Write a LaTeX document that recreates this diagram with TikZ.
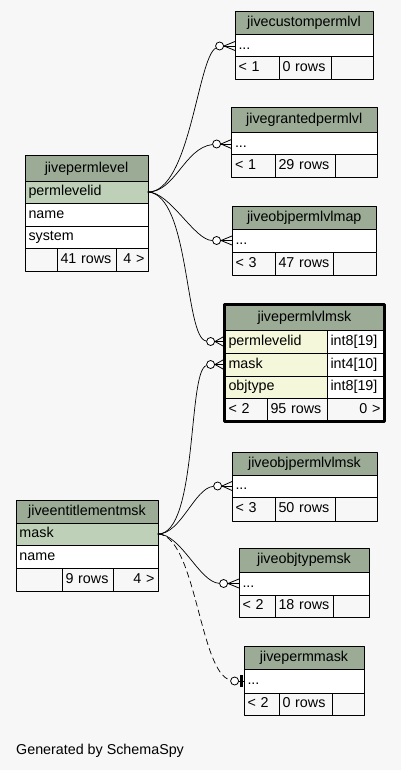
\documentclass[tikz,border=0pt]{standalone}
\usepackage{fontspec}
\setmainfont{Liberation Sans}
\usetikzlibrary{positioning}
\definecolor{bgclr}{HTML}{F7F7F7}
\definecolor{hdrclr}{HTML}{9BAB96}
\definecolor{keyclr}{HTML}{BED1B8}
\definecolor{focusclr}{HTML}{F4F7DA}
\tikzset{
  tbl/.style={draw, line width=1pt, outer sep=0pt, inner xsep=3pt, inner ysep=0pt, text height=10pt, text depth=3pt},
  hdr/.style={tbl, fill=hdrclr},
  keyrow/.style={tbl, fill=keyclr},
  colrow/.style={tbl, fill=white},
  focusrow/.style={tbl, fill=focusclr},
  footrow/.style={tbl, fill=bgclr},
  odot/.style={circle, draw, fill=white, minimum size=8pt, inner sep=0pt, line width=0.8pt},
  rel/.style={line width=0.7pt},
  crow/.style={line width=0.8pt},
}
% one table cell: name, style, x0, y0, x1, y1, align, text
\newcommand{\tcell}[8]{%
  \pgfmathsetmacro\cw{#5-#3}%
  \pgfmathsetmacro\ch{#6-#4}%
  \pgfmathsetmacro\tw{#5-#3-7}%
  \node[#2, anchor=north west, minimum width=\cw pt, minimum height=\ch pt, text width=\tw pt, align=#7] (#1) at (#3,#4) {#8};}
\begin{document}
\begin{tikzpicture}[x=1pt,y=-1pt,line join=round,line cap=round,font=\fontsize{14.3pt}{16pt}\selectfont]
\fill[bgclr] (0,0) rectangle (401,770);
\useasboundingbox (0,0) rectangle (401,770);
% jivecustompermlvl
\tcell{cust-h}{hdr}{235}{12}{373}{35}{center}{jivecustompermlvl}
\tcell{cust-r}{colrow}{235}{35}{373}{57}{left}{...}
\tcell{cust-f1}{footrow}{235}{57}{279}{80}{left}{< 1}
\tcell{cust-f2}{footrow}{279}{57}{331}{80}{left}{0 rows}
\tcell{cust-f3}{footrow}{331}{57}{373}{80}{right}{}
% jivegrantedpermlvl
\tcell{grant-h}{hdr}{231.5}{108}{377}{133}{center}{jivegrantedpermlvl}
\tcell{grant-r}{colrow}{231.5}{133}{377}{155}{left}{...}
\tcell{grant-f1}{footrow}{231.5}{155}{275}{177}{left}{< 1}
\tcell{grant-f2}{footrow}{275}{155}{335}{177}{left}{29 rows}
\tcell{grant-f3}{footrow}{335}{155}{377}{177}{right}{}
% jiveobjpermlvlmap
\tcell{map-h}{hdr}{232}{206}{376.5}{229}{center}{jiveobjpermlvlmap}
\tcell{map-r}{colrow}{232}{229}{376.5}{252}{left}{...}
\tcell{map-f1}{footrow}{232}{252}{275}{275}{left}{< 3}
\tcell{map-f2}{footrow}{275}{252}{333}{275}{left}{47 rows}
\tcell{map-f3}{footrow}{333}{252}{376.5}{275}{right}{}
% jivepermlevel
\tcell{plevel-h}{hdr}{25}{156}{148}{181}{center}{jivepermlevel}
\tcell{plevel-k}{keyrow}{25}{181}{148}{203}{left}{permlevelid}
\tcell{plevel-n}{colrow}{25}{203}{148}{226}{left}{name}
\tcell{plevel-s}{colrow}{25}{226}{148}{248}{left}{system}
\tcell{plevel-f1}{footrow}{25}{248}{57}{271}{left}{}
\tcell{plevel-f2}{footrow}{57}{248}{116}{271}{left}{41 rows}
\tcell{plevel-f3}{footrow}{116}{248}{148}{271}{right}{4 >}
% jivepermlvlmsk
\tcell{msk-h}{hdr}{225}{305}{384}{330}{center}{jivepermlvlmsk}
\tcell{msk-k}{focusrow}{225}{330}{327}{353}{left}{permlevelid}
\tcell{msk-kt}{colrow}{327}{330}{384}{353}{left}{int8[19]}
\tcell{msk-m}{focusrow}{225}{353}{327}{376}{left}{mask}
\tcell{msk-mt}{colrow}{327}{353}{384}{376}{left}{int4[10]}
\tcell{msk-o}{focusrow}{225}{376}{327}{398}{left}{objtype}
\tcell{msk-ot}{colrow}{327}{376}{384}{398}{left}{int8[19]}
\tcell{msk-f1}{footrow}{225}{398}{267}{421}{left}{< 2}
\tcell{msk-f2}{footrow}{267}{398}{327}{421}{left}{95 rows}
\tcell{msk-f3}{footrow}{327}{398}{384}{421}{right}{0 >}
\draw[line width=3pt] ([xshift=-0.5pt,yshift=0.5pt]msk-h.north west) rectangle ([xshift=0.5pt,yshift=-0.5pt]msk-f3.south east);
% jiveobjpermlvlmsk
\tcell{objmsk-h}{hdr}{232}{452}{377}{475}{center}{jiveobjpermlvlmsk}
\tcell{objmsk-r}{colrow}{232}{475}{377}{497}{left}{...}
\tcell{objmsk-f1}{footrow}{232}{497}{275}{521}{left}{< 3}
\tcell{objmsk-f2}{footrow}{275}{497}{335}{521}{left}{50 rows}
\tcell{objmsk-f3}{footrow}{335}{497}{377}{521}{right}{}
% jiveentitlementmsk
\tcell{ent-h}{hdr}{16}{500}{158}{523}{center}{jiveentitlementmsk}
\tcell{ent-k}{keyrow}{16}{523}{158}{545}{left}{mask}
\tcell{ent-n}{colrow}{16}{545}{158}{568}{left}{name}
\tcell{ent-f1}{footrow}{16}{568}{62}{591}{left}{}
\tcell{ent-f2}{footrow}{62}{568}{113}{591}{left}{9 rows}
\tcell{ent-f3}{footrow}{113}{568}{158}{591}{right}{4 >}
% jiveobjtypemsk
\tcell{otype-h}{hdr}{239}{548}{369}{572}{center}{jiveobjtypemsk}
\tcell{otype-r}{colrow}{239}{572}{369}{595}{left}{...}
\tcell{otype-f1}{footrow}{239}{595}{275}{617}{left}{< 2}
\tcell{otype-f2}{footrow}{275}{595}{333}{617}{left}{18 rows}
\tcell{otype-f3}{footrow}{333}{595}{369}{617}{right}{}
% jivepermmask
\tcell{pmask-h}{hdr}{244}{646}{364}{669}{center}{jivepermmask}
\tcell{pmask-r}{colrow}{244}{669}{364}{693}{left}{...}
\tcell{pmask-f1}{footrow}{244}{693}{279}{715}{left}{< 2}
\tcell{pmask-f2}{footrow}{279}{693}{332}{715}{left}{0 rows}
\tcell{pmask-f3}{footrow}{332}{693}{364}{715}{right}{}
% circles at the child ends
\node[odot, left=11pt of cust-r.west] (cust-o) {};
\node[odot, left=10.5pt of grant-r.west] (grant-o) {};
\node[odot, left=11pt of map-r.west] (map-o) {};
\node[odot, left=10pt of msk-k.west] (msk-ko) {};
\node[odot, left=10pt of msk-m.west] (msk-mo) {};
\node[odot, left=10pt of objmsk-r.west] (objmsk-o) {};
\node[odot, left=11pt of otype-r.west] (otype-o) {};
\node[odot, left=5pt of pmask-r.west] (pmask-o) {};
% relations
\draw[rel] (plevel-k.east) .. controls +(42,0) and +(-22,12) .. (cust-o);
\draw[rel] (plevel-k.east) .. controls +(27,0) and +(-32,4) .. (grant-o);
\draw[rel] (plevel-k.east) .. controls +(22,0) and +(-22,0) .. (map-o);
\draw[rel] (plevel-k.east) .. controls +(42,3) and +(-26,-3) .. (msk-ko);
\draw[rel] (ent-k.east) .. controls +(40,0) and +(-23,6) .. (msk-mo);
\draw[rel] (ent-k.east) .. controls +(23,0) and +(-23,2) .. (objmsk-o);
\draw[rel] (ent-k.east) .. controls +(23,0) and +(-24,-1) .. (otype-o);
\draw[rel, dash pattern=on 6pt off 4pt] (ent-k.east) .. controls +(38,2) and +(-35,-8) .. (pmask-o);
% crow feet
\foreach \o/\r/\g in {cust-o/cust-r/0, grant-o/grant-r/0, map-o/map-r/0, msk-ko/msk-k/2, msk-mo/msk-m/2, objmsk-o/objmsk-r/0, otype-o/otype-r/0}{
  \draw[crow] (\o.east) -- ([xshift=-\g pt,yshift=4.5pt]\r.west);
  \draw[crow] (\o.east) -- ([xshift=-\g pt]\r.west);
  \draw[crow] (\o.east) -- ([xshift=-\g pt,yshift=-4.5pt]\r.west);
}
\draw[crow] (pmask-o.east) -- (pmask-r.west);
\draw[line width=2.5pt, line cap=butt] ([xshift=-2.5pt,yshift=6pt]pmask-r.west) -- ([xshift=-2.5pt,yshift=-6pt]pmask-r.west);
\node[anchor=west, inner sep=0pt] (credit) at (16,751) {Generated by SchemaSpy};
\end{tikzpicture}
\end{document}
